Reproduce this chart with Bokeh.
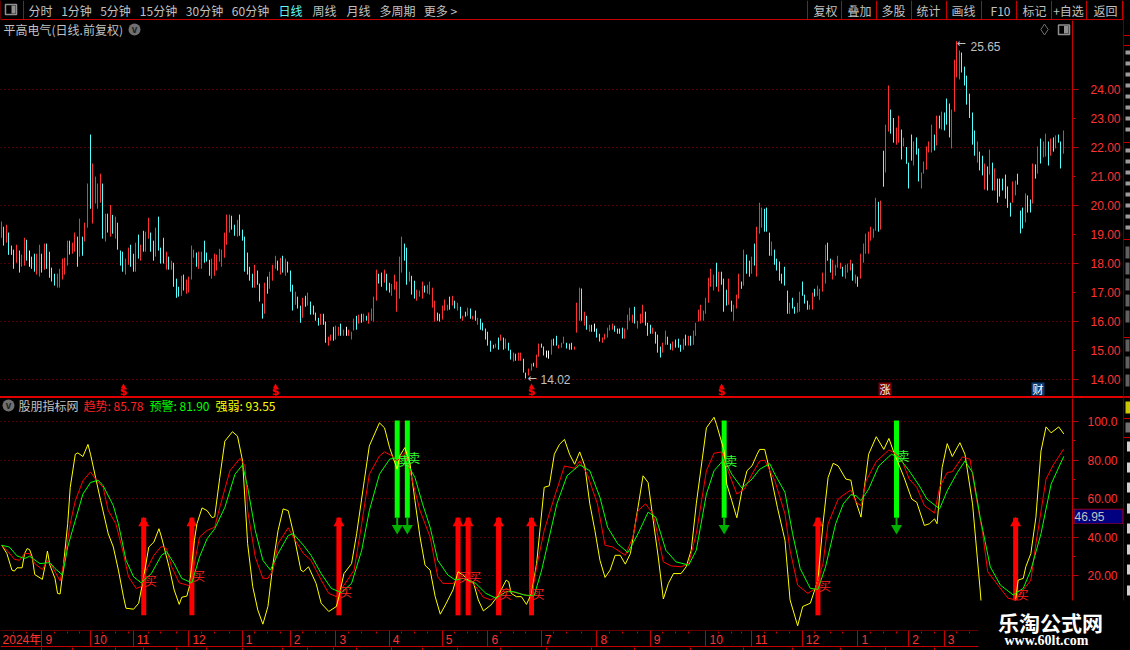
from math import floor
from bokeh.embed import file_html
from bokeh.resources import INLINE
from bokeh.plotting import figure
from bokeh.layouts import column, row
from bokeh.models import Range1d, FixedTicker, NumeralTickFormatter, Div
from bokeh.core.properties import value

# ---------- price bars (high / low / direction) ----------
high_1 = [19.43,19.25,19.32,19.05,18.60,18.46,18.63,18.43,18.29,18.87,18.80,18.43,18.22,18.32,18.32,18.63,18.32,18.67,18.67,18.39,17.84,17.63,17.63,17.80,18.15,18.18,18.77,18.77,18.70,
          19.05,18.91,19.53,18.91,19.39,20.74,22.43,21.43,20.98,20.74,21.08,20.74,19.70,19.70,20.00,19.66,19.60,19.39]
low_1 = [18.87,18.60,18.70,18.28,18.28,17.80,18.01,17.67,17.87,17.91,18.08,17.87,17.80,17.70,17.60,17.53,17.67,17.77,17.80,17.49,17.36,17.22,17.15,17.15,17.43,17.60,17.91,18.29,18.32,
         18.39,17.87,18.22,18.25,18.74,19.22,19.87,19.36,20.05,19.87,20.08,18.84,18.74,19.05,18.91,19.01,18.84,18.46]
dir_1 = "RCRCCCRCRRCWCCRRCRCCCCRRRRRCR" + "RCRCRRCRRRRCRCRCRC"

high_2 = [18.43,18.39,18.15,18.53,18.63,18.32,18.70,18.98,18.63,19.11,19.08,19.56,19.05,18.77,19.22,19.60,18.53,18.87,18.39,18.22,
          18.08,18.01,17.46,17.18,17.56,17.60,17.43,17.53,18.60,18.46,18.36,18.39,18.39,18.77,18.36,18.11,18.15,18.32,18.29,18.49,
          18.46,19.05,19.67,19.67,19.63,19.32,19.49,19.67,19.15,18.91,18.36,17.87,17.63,17.94,17.74,17.29,16.60,17.32,17.53,17.70,
          17.94,18.25,18.08,18.18,18.25,18.15,18.05,17.74,17.25,17.01,16.84,16.53,16.80,16.87,16.98,16.67,16.53,16.29,16.11,16.25,
          16.25,15.98,15.46,15.53,15.80,15.84,15.80,15.91,15.70,15.80,15.70]
low_2 = [17.91,17.70,17.60,17.94,17.87,17.70,17.70,18.15,18.08,18.39,18.39,18.84,18.39,18.08,18.22,18.43,17.98,17.98,17.77,17.77,
         17.77,17.18,16.80,16.84,16.87,17.05,16.94,16.98,17.43,18.18,17.87,17.80,17.80,18.01,18.05,17.56,17.46,17.56,17.74,18.05,
         17.87,18.18,18.63,19.05,19.15,18.94,18.91,18.94,18.77,17.70,17.60,17.39,17.15,17.15,17.25,16.67,16.08,16.25,16.94,17.11,
         17.39,17.80,17.74,17.60,17.67,17.56,17.67,17.01,16.36,16.56,16.43,15.94,16.11,16.49,16.53,16.22,16.22,16.01,15.84,15.87,
         15.87,15.25,15.15,15.32,15.32,15.36,15.49,15.49,15.49,15.49,15.49]
dir_2 = "CCRRCCRCRCRRCCRCCCRC" + "RCCCRCRRRRCRRCCCRRRR" + "RRRRCCRCCCCCCRCCCRCR" + "RRCRCRCCCRCCRCRCCCCR" + "CCRRCRRCRWR"

high_3 = [15.63,16.08,16.18,16.22,16.25,16.25,16.18,16.29,16.43,16.84,17.77,17.63,17.67,17.77,17.63,17.32,17.28,17.60,17.36,18.22,
          18.91,18.67,18.53,17.70,17.56,17.39,17.08,17.05,17.36,17.22,17.25,17.36,17.15,16.70,16.29,16.25,16.53,16.74,16.56,16.84,
          16.87,16.70,16.63,16.49,16.18,16.32,16.46,16.43,16.18,16.36,16.11,16.08,15.94,15.74,15.63,15.32,15.18,15.22,15.43,15.53,
          15.43,15.39,15.25,15.01,14.91,14.87,14.91,14.91,14.70,14.22,14.36,14.53,14.56,14.84,15.22,15.22,15.12,14.98,14.98,15.36,
          15.39,15.49,15.18,15.25,15.46,15.25,15.22,15.25,15.12,16.63,17.15,17.12,16.32,16.18,15.87,15.87,15.91,15.74,15.56,15.43,
          15.56,15.77,15.87,15.91,15.84,15.74,15.74,15.77,15.74,16.22,16.46,16.22,16.49,16.01,16.25,16.56,16.32,15.94,15.87,15.77,
          15.63,15.53,15.12,15.25,15.67,15.46,15.22,15.29,15.36,15.39,15.18,15.39,15.53,15.49,15.49,15.67,15.94,16.39]
low_3 = [15.36,15.67,15.70,15.91,15.94,15.98,16.01,15.91,16.01,15.98,16.70,17.29,17.18,17.32,17.05,16.98,16.87,17.08,16.32,16.77,
         17.67,18.08,17.25,17.36,16.91,16.77,16.70,16.84,16.77,16.98,16.94,16.91,16.46,15.98,16.01,15.98,16.05,16.36,16.36,16.39,
         16.53,16.43,16.36,16.08,16.01,16.15,16.18,16.08,16.05,16.01,15.87,15.70,15.67,15.36,15.15,14.94,15.05,15.08,15.01,15.32,
         15.01,15.05,14.98,14.67,14.60,14.63,14.63,14.63,14.22,14.02,14.12,14.29,14.43,14.39,14.77,15.08,14.81,14.74,14.70,14.84,
         15.15,15.15,15.05,15.08,15.22,15.05,15.01,15.01,15.01,15.60,16.01,16.01,15.84,15.70,15.63,15.63,15.63,15.43,15.29,15.25,
         15.36,15.43,15.67,15.70,15.63,15.56,15.56,15.39,15.39,15.70,16.01,15.94,15.91,15.74,15.91,15.94,15.84,15.49,15.56,15.56,
         15.22,14.91,14.74,14.91,15.18,15.18,15.01,14.98,15.08,15.08,14.94,15.01,15.15,15.15,15.15,15.18,15.49,15.98]
dir_3 = "RRCRCRCRRRRCCRCCRRRR" + "RCCRCCRRRCRRRRCCRRRC" + "RCRCRCRCRCRCCCCCCRCR" + "CRCCRCRRCCRRCRRCCWWR" + "CCRRRCCCRRRCRCRCWCCR" + "RRRRCCCCRRRRCRRRCCCR" + "CCCRRCCRCCCRCRCRRR"

high_4 = [16.56,16.36,16.80,17.49,17.80,17.60,18.01,17.70,17.70,17.46,17.08,17.46,16.70,16.56,16.91,17.63,17.36,18.46,18.29,18.08,
          18.22,18.67,19.25,20.08,19.91,19.87,19.91,19.05,18.74,18.46,18.15,18.05,17.63,17.87,17.05,16.63,16.80,16.49,16.63,17.01,
          17.36,16.91,16.70,16.56,16.98,17.11,17.22,17.11,17.67,18.63,18.70,18.15,18.11,17.94,18.25,18.01,17.87,17.94,17.98,18.11,
          17.98,17.60,17.53,18.32,18.67,19.01,19.08,19.25,19.18,20.25,20.11,20.15,21.87]
low_4 = [16.01,16.01,16.25,16.63,17.18,17.05,17.18,17.01,17.25,16.32,16.53,16.56,16.32,16.01,16.43,16.77,17.11,17.22,17.63,17.53,
         17.63,17.91,17.53,19.01,19.22,19.08,19.08,18.25,18.25,17.94,17.74,17.39,17.29,17.22,16.25,16.25,16.43,16.25,16.29,16.32,
         16.87,16.60,16.39,16.39,16.39,16.84,16.87,16.73,17.01,17.29,18.08,17.67,17.43,17.56,17.84,17.80,17.53,17.46,17.67,17.74,
         17.39,17.29,17.18,17.46,18.01,18.32,18.32,18.77,18.87,19.11,19.08,19.15,20.63]
dir_4 = "RRRRRRCRCCCRCRRRCRCC" + "RCRRRCCCRCCCCCCRCCRR" + "CCCRRCRRRRCCRRRRCRRR" + "CRCRRRRRRRCRC"

high_5 = [22.77,24.12,23.29,23.00,22.67,23.08,22.60,22.32,22.00,21.46,22.43,22.19,22.33,21.95,21.12,21.50,22.02,22.19,22.77,22.43,
          23.08,23.08,23.22,23.19,23.67,23.50,23.29,25.01,25.65,25.33,25.26,24.77,24.46,23.84,23.19,22.57,22.19,21.84,21.70,21.43,
          21.33,21.91,21.46,21.26,20.91,20.91,20.91,21.05,20.64,20.08,20.81,20.84,21.08,19.81,19.91,20.40,20.33,20.19,21.43,21.40,
          22.02,22.29,22.19,22.46,22.19,22.29,22.33,22.40,22.43,22.19,22.57]
low_5 = [21.12,22.53,22.46,22.15,22.08,22.15,21.57,22.02,21.42,20.57,21.53,21.36,21.74,20.81,20.57,21.08,21.22,21.81,21.81,21.88,
         22.05,22.64,22.60,22.57,22.77,22.33,21.95,23.22,24.40,24.33,24.57,24.12,23.46,23.00,22.08,21.70,21.46,21.19,21.02,20.53,
         20.50,21.05,20.50,20.50,20.08,20.29,20.50,20.22,19.90,19.60,20.08,20.33,20.70,19.02,19.19,19.40,19.74,19.74,20.05,20.91,
         21.08,21.43,21.64,21.67,21.36,21.70,21.84,21.95,22.15,21.26,21.77]
dir_5 = "RRCCRRCRCCCRCCRRRRRC" + "RCRCCCRRRRCCCCCCRCCR" + "CRCRCCCCCCRRCCCRCCRC" + "RCRRCRCRCCR"

bar_high = high_1 + high_2 + high_3 + high_4 + high_5
bar_low = low_1 + low_2 + low_3 + low_4 + low_5
bar_dir = dir_1 + dir_2 + dir_3 + dir_4 + dir_5

# ---------- indicator series ----------
yellow_x = [0,2,4,5,6,8,9,10,11,12,13,16,17,18,19,21,22,23,24,26,27,29,30,32,34,35,37,39,42,44,46,48,49,52,54,56,58,60,62,63,66,68,70,71,73,74,76,77,79,81,83,84,86,88,91,93,95,97,99,101,103,105,107,109,111,113,115,118,119,121,124,126,129,132,133,135,138,140,143,145,149,
            151,153,156,157,159,161,163,165,167,169,171,173,175,178,180,182,184,186,188,190,193,196,199,200,201,203,205,207,209,211,214,216,218,220,222,224,226,228,230,232,234,236,238,240,242,244,246,248,251,253,255,257,259,261,263,265,268,270,272,274,278,281,282,285,286,288,290,292,294,296,298,
            299,301,303,306,309,311,314,316,319,322,324,326,328,330,333,335,336,339,340,342,345,348,350,352,356,359,361,364,366,368,369,371,373,375,378,380,383,386,387,389,394,398,400,401,403,404,406,408,410,412,414,417,419]
yellow_v = [35.7,31.4,22.8,22.3,24.0,24.0,31.4,34.0,33.4,29.6,20.5,18.0,24.5,32.7,25.3,18.5,10.7,10.4,21.0,46.9,65.8,83.0,83.7,81.8,88.1,83.0,70.9,58.9,41.7,34.8,22.8,9.0,3.0,2.5,5.6,19.3,34.8,37.4,44.3,40.0,24.5,12.5,5.0,8.7,9.3,14.2,38.3,46.9,55.1,53.7,50.0,50.6,70.9,89.8,94.7,92.4,79.5,36.5,14.2,2.1,-5.3,3.9,26.2,43.4,54.6,53.7,42.5,22.8,22.0,24.5,15.9,5.6,1.3,3.9,9.0,21.0,26.2,41.7,69.2,87.3,99.3,
            96.7,86.4,75.2,82.1,86.4,78.7,58.9,40.0,25.3,22.8,9.0,-0.1,4.7,12.5,21.9,20.2,17.6,16.7,7.3,1.6,4.7,9.9,17.6,16.7,10.7,9.0,9.0,5.0,10.7,26.2,65.8,66.6,83.0,88.1,90.7,83.0,77.8,84.2,77.0,57.2,43.4,27.9,19.0,22.8,30.5,30.5,25.9,31.4,55.4,71.8,68.3,48.6,29.6,7.8,15.9,21.0,21.0,24.5,33.1,57.2,96.7,102.2,98.4,84.7,67.5,58.9,50.0,64.0,74.4,77.0,83.0,
            85.5,85.5,74.4,55.4,38.3,7.3,-6.1,3.9,5.6,17.6,46.9,70.9,78.3,76.9,70.1,69.5,62.3,50.3,62.3,83.0,92.1,85.5,91.2,83.8,70.9,59.7,58.0,46.0,46.9,49.4,46.9,76.1,88.5,81.8,89.0,83.0,57.2,12.5,-4.7,-6.0,-3.0,2.0,7.3,17.6,18.5,24.5,31.4,50.3,84.7,97.2,94.1,97.2,93.55]

red_x = [0,2,5,7,9,11,13,16,18,20,23,25,27,29,32,35,37,40,42,45,48,50,53,55,57,60,63,65,67,70,74,76,78,81,84,86,90,94,96,97,100,103,105,107,109,113,115,119,122,126,129,132,135,139,142,145,149,
         151,154,156,159,161,165,169,172,174,178,180,184,187,190,193,196,199,201,205,209,211,214,218,222,226,228,231,235,238,241,246,249,251,254,257,261,264,268,271,274,278,281,284,286,290,293,296,
         299,301,305,309,311,314,318,321,324,326,330,332,335,337,339,341,345,350,352,355,358,361,364,368,370,373,375,379,382,384,387,389,393,397,400,403,406,408,412,415,419]
red_v = [35.7,33.1,28.4,27.9,31.4,31.4,26.2,23.1,27.9,24.5,17.1,29.6,46.9,58.9,69.2,73.8,70.1,65.8,53.7,46.9,31.4,19.3,13.3,14.2,22.8,30.5,35.2,33.9,24.5,16.2,14.7,26.2,40.0,43.4,45.1,55.4,74.4,80.9,76.9,53.7,29.6,18.5,18.5,22.8,36.5,44.8,40.0,31.4,27.9,17.6,10.7,9.0,15.0,22.8,46.9,72.6,82.1,
         84.2,82.1,79.5,83.8,74.4,53.7,40.0,19.3,15.9,15.9,18.5,18.5,14.2,8.7,7.3,9.9,13.3,11.6,10.4,9.0,24.5,43.4,60.6,76.9,75.7,79.5,72.6,57.2,35.7,34.8,30.5,40.0,53.7,57.2,52.0,27.1,25.0,24.5,26.2,41.7,74.4,83.5,84.2,76.1,62.3,64.9,72.6,
         79.5,79.9,69.2,52.0,33.1,15.0,10.7,13.3,26.2,46.9,59.7,61.8,64.4,58.0,56.3,69.2,79.2,85.2,83.8,80.4,70.1,65.8,56.3,52.4,65.8,73.5,73.9,81.6,80.4,64.0,41.7,21.9,15.0,8.2,7.3,12.5,17.6,36.5,70.1,77.8,85.78]

green_x = [0,3,6,9,11,15,19,21,24,26,29,32,35,38,40,44,46,49,52,55,59,63,65,68,71,75,78,81,84,88,92,95,97,100,103,106,109,113,115,119,122,126,130,134,138,142,145,149,
           153,156,159,163,166,169,172,176,179,182,187,191,195,199,202,206,210,213,216,219,223,228,232,236,239,243,247,251,255,258,262,266,271,274,278,281,285,288,292,296,
           299,303,305,309,312,315,319,322,325,329,332,335,337,339,342,346,351,354,358,362,365,370,373,377,380,383,386,390,394,399,403,406,410,414,419]
green_v = [35.7,34.8,30.2,28.8,30.0,26.2,26.7,23.6,20.2,34.8,48.6,62.3,68.3,69.5,66.6,56.3,46.9,28.0,19.3,16.2,21.0,30.5,32.4,26.2,18.5,16.2,29.6,39.1,44.3,55.4,72.6,77.5,65.8,43.4,27.9,22.8,31.4,40.8,41.7,35.7,30.5,21.0,13.3,11.1,15.9,33.1,53.7,72.6,
           80.4,81.3,80.4,70.9,57.2,45.1,27.9,20.2,17.6,18.5,15.9,10.7,8.2,11.6,11.6,9.9,9.4,22.8,40.0,57.2,71.8,77.5,74.4,60.6,45.1,36.5,31.9,41.7,52.9,50.3,33.1,27.1,25.4,33.1,62.3,74.4,80.4,72.6,65.4,70.1,
           75.2,78.1,72.6,63.2,41.7,23.6,13.3,12.8,24.5,46.9,57.2,62.0,61.5,58.9,64.9,76.9,83.0,81.2,74.4,66.6,59.7,54.6,64.0,73.5,79.5,73.5,50.3,24.5,15.0,9.9,13.3,22.8,41.7,67.5,81.90]

buy_idx = [56,75,133,180,184,196,209,322,400]
buy_lab = [17.3,20.2,11.9,19.7,19.7,10.4,10.4,15.0,9.9]
sell_idx = [156,160,285,353]
sell_lab = [79.5,81.3,80.0,82.5]

# ---------- axis and label content ----------
price_ticks = [14,15,16,17,18,19,20,21,22,23,24]
price_grid = [14,16,18,20,22,24]
ind_ticks = [100,80,60,40,20]
ind_minor = [90,70,50,30]
month_idx = [16,35,52,74,95,114,132,153,174,192,213,235,256,278,296,316,338,358,372]
month_lab = ["9","10","11","12","1","2","3","4","5","6","7","8","9","10","11","12","1","2","3"]
week_idx = [5,10,21,26,31,40,45,50,58,63,69,79,84,90,100,105,110,119,124,128,137,142,148,158,163,168,179,184,188,197,202,207,218,223,229,240,245,251,261,266,271,283,288,292,301,306,311,321,327,332,343,348,353,363,368,377,382]
dollar_idx = [48,108,209,284]
tabs_left = ["分时","1分钟","5分钟","15分钟","30分钟","60分钟","日线","周线","月线","多周期","更多 >"]
tabs_right = ["复权","叠加","多股","统计","画线","F10","标记","+自选","返回"]
tab_px_left = [40,76,115,158,204,250,290,324,358,397,440]
tab_px_right = [825,859,893,928,963,1000,1034,1068,1105]
sep_px = [807,841,876,911,946,981,1016,1051,1086]
low_tab_idx = [16,28,45,56,69,81,95,111,121,131,140,154,166,180,197,215,233,250,272,293,312,331,349,368]

# ---------- layout constants (screen calibration of the two panels) ----------
SP = 2.5346
X0 = -1.3 / SP
X1 = (1072 - 1.3) / SP
def ix(px): return (px - 1.3) / SP
def pr(y): return 14 + (378.5 - y) / 29.0
def iv(y): return (613.5 - y) / 1.925
def snap(i):
    # put a bar on a whole screen pixel so that its 1px line stays crisp
    return ix(floor(1.3 + SP * i))

BLACK = "#000000"; AX = "#c40000"; GRID = "#b00000"; TXT = "#c0c0c0"; LBL = "#ff3232"
CJK = "Noto Sans CJK SC"
idx = [snap(i) for i in range(len(bar_high))]
cmap = {"R": "#ff3030", "C": "#54ffff", "W": "#ffffff"}
colors = [cmap[c] for c in bar_dir]

def base(**kw):
    f = figure(output_backend="svg", toolbar_location=None, background_fill_color=BLACK,
               border_fill_color=BLACK, outline_line_color=None,
               min_border_left=0, min_border_top=0, min_border_bottom=0, min_border_right=0, **kw)
    f.grid.visible = False
    return f

# ---------- top bar ----------
top = base(frame_width=1123, frame_height=20, x_range=Range1d(0, 1123), y_range=Range1d(20, 0),
           x_axis_location=None, y_axis_location=None)
top.segment(x0=[0], y0=[19], x1=[1123], y1=[19], line_color=AX, line_width=1)
top.segment(x0=sep_px + [0, 23, 1122], y0=[0]*(len(sep_px)+3), x1=sep_px + [0, 23, 1122], y1=[19]*(len(sep_px)+3), line_color=AX)
top.quad(left=[5], right=[16], top=[4], bottom=[14], fill_color=None, line_color="#909090", line_width=1.5)
top.quad(left=[11], right=[15], top=[5], bottom=[13], fill_color="#909090", line_color=None)
tc = ["#5ffcfc" if t == "日线" else TXT for t in tabs_left]
top.text(x=tab_px_left, y=[10]*len(tabs_left), text=tabs_left, text_color=tc, text_font=value(CJK), text_font_size="12px", text_align="center", text_baseline="middle")
top.text(x=tab_px_right, y=[10]*len(tabs_right), text=tabs_right, text_color=TXT, text_font=value(CJK), text_font_size="12px", text_align="center", text_baseline="middle")

# ---------- price panel ----------
main = base(frame_width=1072, frame_height=376, x_range=Range1d(X0, X1), y_range=Range1d(pr(396), pr(20)),
            x_axis_location=None, y_axis_location="right")
main.min_border_right = 51
main.ygrid.visible = True
main.ygrid.ticker = FixedTicker(ticks=price_grid)
main.ygrid.grid_line_color = GRID
main.ygrid.grid_line_dash = "1 3"
ax = main.yaxis[0]
ax.ticker = FixedTicker(ticks=price_ticks, minor_ticks=price_grid)
ax.formatter = NumeralTickFormatter(format="0.00")
ax.axis_line_color = AX
ax.major_tick_line_color = AX; ax.minor_tick_line_color = AX
ax.major_tick_in = 0; ax.major_tick_out = 3; ax.minor_tick_in = 0; ax.minor_tick_out = 6
ax.major_label_standoff = 12
ax.major_label_text_color = LBL
ax.major_label_text_font = "Liberation Sans"
ax.major_label_text_font_size = "12px"
main.segment(x0=idx, y0=bar_low, x1=idx, y1=bar_high, line_color=colors, line_width=1)

main.text(x=[ix(3)], y=[pr(29)], text=["平高电气(日线.前复权)"], text_color=TXT, text_font=value(CJK), text_font_size="12px", text_baseline="middle")
main.scatter(x=[ix(134)], y=[pr(29)], size=12, marker="circle", fill_color="#707070", line_color=None)
main.text(x=[ix(134)], y=[pr(28.5)], text=["v"], text_color="#202020", text_font=value("Liberation Sans"), text_font_size="10px", text_font_style="bold", text_align="center", text_baseline="middle")
main.scatter(x=[ix(1044)], y=[pr(29)], size=11, marker="diamond", fill_color=None, line_color="#707070")
main.quad(left=[ix(1058)], right=[ix(1069)], top=[pr(24.5)], bottom=[pr(34)], fill_color=None, line_color="#909090", line_width=1.5)
main.quad(left=[ix(1063.5)], right=[ix(1068)], top=[pr(25.5)], bottom=[pr(33)], fill_color="#909090", line_color=None)

main.text(x=[ix(956)], y=[pr(43)], text=["←"], text_color=TXT, text_font=value("DejaVu Sans"), text_font_size="11px", text_baseline="middle")
main.text(x=[ix(970)], y=[pr(45.5)], text=["25.65"], text_color=TXT, text_font=value("Liberation Sans"), text_font_size="12px", text_baseline="middle")
main.text(x=[ix(527)], y=[pr(378)], text=["←"], text_color=TXT, text_font=value("DejaVu Sans"), text_font_size="11px", text_baseline="middle")
main.text(x=[ix(540)], y=[pr(378.5)], text=["14.02"], text_color=TXT, text_font=value("Liberation Sans"), text_font_size="12px", text_baseline="middle")

main.text(x=dollar_idx, y=[pr(390.5)]*4, text=["$"]*4, text_color="#ff0000", text_font=value("DejaVu Sans"), text_font_style="bold", text_font_size="11px", text_align="center", text_baseline="middle")
main.scatter(x=dollar_idx, y=[pr(386)]*4, size=5, marker="triangle", fill_color="#ff0000", line_color=None)
main.rect(x=[ix(884.5)], y=[pr(388.5)], width=13, height=13, width_units="screen", height_units="screen", fill_color="#7c0000", line_color=None)
main.text(x=[ix(884.5)], y=[pr(388.5)], text=["涨"], text_color="#ffffff", text_font=value(CJK), text_font_size="11px", text_align="center", text_baseline="middle")
main.rect(x=[ix(1037.5)], y=[pr(388.5)], width=13, height=13, width_units="screen", height_units="screen", fill_color="#0c3c72", line_color=None)
main.text(x=[ix(1037.5)], y=[pr(388.5)], text=["财"], text_color="#ffffff", text_font=value(CJK), text_font_size="11px", text_align="center", text_baseline="middle")

# ---------- separator ----------
sep = Div(width=1123, height=2, margin=0, styles={"background-color": "#e00000"})

# ---------- indicator panel ----------
ind = base(frame_width=1072, frame_height=232, x_range=Range1d(X0, X1), y_range=Range1d(iv(630), iv(398)),
           x_axis_location=None, y_axis_location="right")
ind.min_border_right = 51
ind.ygrid.visible = True
ind.ygrid.ticker = FixedTicker(ticks=ind_ticks)
ind.ygrid.grid_line_color = GRID
ind.ygrid.grid_line_dash = "1 3"
ay = ind.yaxis[0]
ay.ticker = FixedTicker(ticks=ind_ticks, minor_ticks=ind_minor)
ay.major_label_overrides = {100: "100.0", 80: "80.00", 60: "60.00", 40: "40.00", 20: "20.00"}
ay.axis_line_color = AX
ay.major_tick_line_color = AX; ay.minor_tick_line_color = AX
ay.major_tick_in = 0; ay.major_tick_out = 6; ay.minor_tick_in = 0; ay.minor_tick_out = 3
ay.major_label_standoff = 9
ay.major_label_text_color = LBL
ay.major_label_text_font = "Liberation Sans"
ay.major_label_text_font_size = "12px"

ind.vbar(x=buy_idx, bottom=[-0.7]*len(buy_idx), top=[50]*len(buy_idx), width=5/SP, fill_color="#ff0000", line_color=None)
ind.scatter(x=buy_idx, y=[47.2]*len(buy_idx), size=11, marker="triangle", fill_color="#ff0000", line_color=None)
ind.vbar(x=sell_idx, bottom=[50]*len(sell_idx), top=[100.5]*len(sell_idx), width=5/SP, fill_color="#00ff00", line_color=None)
ind.segment(x0=sell_idx, y0=[50]*len(sell_idx), x1=sell_idx, y1=[46]*len(sell_idx), line_color="#00b000", line_width=2)
ind.scatter(x=sell_idx, y=[44.6]*len(sell_idx), size=11, marker="inverted_triangle", fill_color="#00b000", line_color=None)
ind.line(x=yellow_x, y=yellow_v, line_color="#ffff00", line_width=1)
ind.line(x=red_x, y=red_v, line_color="#ff0000", line_width=1)
ind.line(x=green_x, y=green_v, line_color="#00ff00", line_width=1)
ind.text(x=[i + 0.4 for i in buy_idx], y=buy_lab, text=["买"]*len(buy_idx), text_color="#ff2020", text_font=value(CJK), text_font_size="12px", text_baseline="middle")
ind.text(x=[i + 0.4 for i in sell_idx], y=sell_lab, text=["卖"]*len(sell_idx), text_color="#30ff30", text_font=value(CJK), text_font_size="12px", text_baseline="middle")

ind.scatter(x=[ix(8)], y=[iv(405)], size=12, marker="circle", fill_color="#707070", line_color=None)
ind.text(x=[ix(8)], y=[iv(404.5)], text=["v"], text_color="#202020", text_font=value("Liberation Sans"), text_font_size="10px", text_font_style="bold", text_align="center", text_baseline="middle")
heads = ["股朋指标网", "趋势: 85.78", "预警: 81.90", "强弱: 93.55"]
head_px = [18, 83, 149, 215]
head_col = [TXT, "#ff2020", "#00ff00", "#ffff00"]
ind.text(x=[ix(v) for v in head_px], y=[iv(405)]*4, text=heads, text_color=head_col, text_font=value(CJK), text_font_size="12px", text_baseline="middle")

# ---------- date strip: its x scale continues the panels' bar scale ----------
date = base(frame_width=1123, frame_height=20, x_range=Range1d(X0, ix(1123)), y_range=Range1d(650, 630),
            x_axis_location=None, y_axis_location=None)
month_snap = [snap(m) for m in month_idx]
date.segment(x0=[X0, X0], y0=[630, 646], x1=[ix(978)]*2, y1=[630, 646], line_color=AX)
date.segment(x0=month_snap, y0=[630]*len(month_idx), x1=month_snap, y1=[646]*len(month_idx), line_color=AX)
date.segment(x0=[snap(w) for w in week_idx], y0=[631]*len(week_idx), x1=[snap(w) for w in week_idx], y1=[633]*len(week_idx), line_color=AX)
date.segment(x0=[snap(t) for t in low_tab_idx], y0=[647]*len(low_tab_idx), x1=[snap(t) for t in low_tab_idx], y1=[650]*len(low_tab_idx), line_color=AX)
date.text(x=[0.3], y=[639], text=["2024年"], text_color=LBL, text_font=value("Liberation Sans, Noto Sans CJK SC"), text_font_size="12px", text_baseline="middle")
date.text(x=[m + 1.2 for m in month_idx], y=[639]*len(month_idx), text=month_lab, text_color=LBL, text_font=value("Liberation Sans"), text_font_size="12px", text_baseline="middle")

# ---------- watermark box laid over the bottom right corner ----------
wm = base(frame_width=145, frame_height=50, x_range=Range1d(978, 1123), y_range=Range1d(650, 600),
          x_axis_location=None, y_axis_location=None)
wm.margin = (-50, 0, 0, 978)
wm.text(x=[1050], y=[621], text=["乐淘公式网"], text_color="#ffffff", text_font=value(CJK), text_font_size="21px", text_font_style="bold", text_align="center", text_baseline="middle")
wm.text(x=[1046], y=[639.5], text=["www.60lt.com"], text_color="#ffffff", text_font=value("Liberation Serif"), text_font_size="14px", text_font_style="bold", text_align="center", text_baseline="middle")

# ---------- cursor value box on the indicator axis ----------
cur = base(frame_width=50, frame_height=16, x_range=Range1d(0, 50), y_range=Range1d(16, 0),
           x_axis_location=None, y_axis_location=None)
cur.margin = (-122, 0, 106, 1073)
cur.quad(left=[0.5], right=[49.5], top=[0.5], bottom=[15.5], fill_color="#000080", line_color="#c00000")
cur.text(x=[1], y=[8], text=["46.95"], text_color=TXT, text_font=value("Liberation Sans"), text_font_size="12px", text_baseline="middle")

# ---------- clipped side panel ----------
strip = base(frame_width=7, frame_height=650, x_range=Range1d(0, 7), y_range=Range1d(650, 0), x_axis_location=None, y_axis_location=None)
strip.segment(x0=[0], y0=[0], x1=[0], y1=[600], line_color=AX, line_width=1)
hl = [35, 45, 142, 239, 337, 396, 397, 418, 437]
strip.segment(x0=[0]*len(hl), y0=hl, x1=[7]*len(hl), y1=hl, line_color=AX)
rows1 = [52,63,74,85,96,107,118,129,150,161,172,183,194,205,216,227]
strip.quad(left=[2]*len(rows1), right=[7]*len(rows1), top=[r-2 for r in rows1], bottom=[r+2 for r in rows1], fill_color="#9a9a9a", line_color=None)
rows2 = [252,268,284,300,316,345,362,380]
strip.quad(left=[2]*len(rows2), right=[6]*len(rows2), top=[r-6 for r in rows2], bottom=[r+6 for r in rows2], fill_color="#606060", line_color=None)
strip.quad(left=[2], right=[7], top=[401], bottom=[413], fill_color="#c8c800", line_color=None)
strip.quad(left=[2], right=[7], top=[422], bottom=[432], fill_color="#707070", line_color=None)
rows3 = [446,467,487,508,528,549,569,590]
strip.quad(left=[3.5]*len(rows3), right=[7]*len(rows3), top=[r-5 for r in rows3], bottom=[r+5 for r in rows3], fill_color="#d0d0d0", line_color=None)

left = column(top, main, sep, ind, cur, date, wm, spacing=0, styles={"background-color": BLACK})
page = row(left, strip, spacing=0, styles={"background-color": BLACK})
open("out.html", "w").write(file_html(page, INLINE))
